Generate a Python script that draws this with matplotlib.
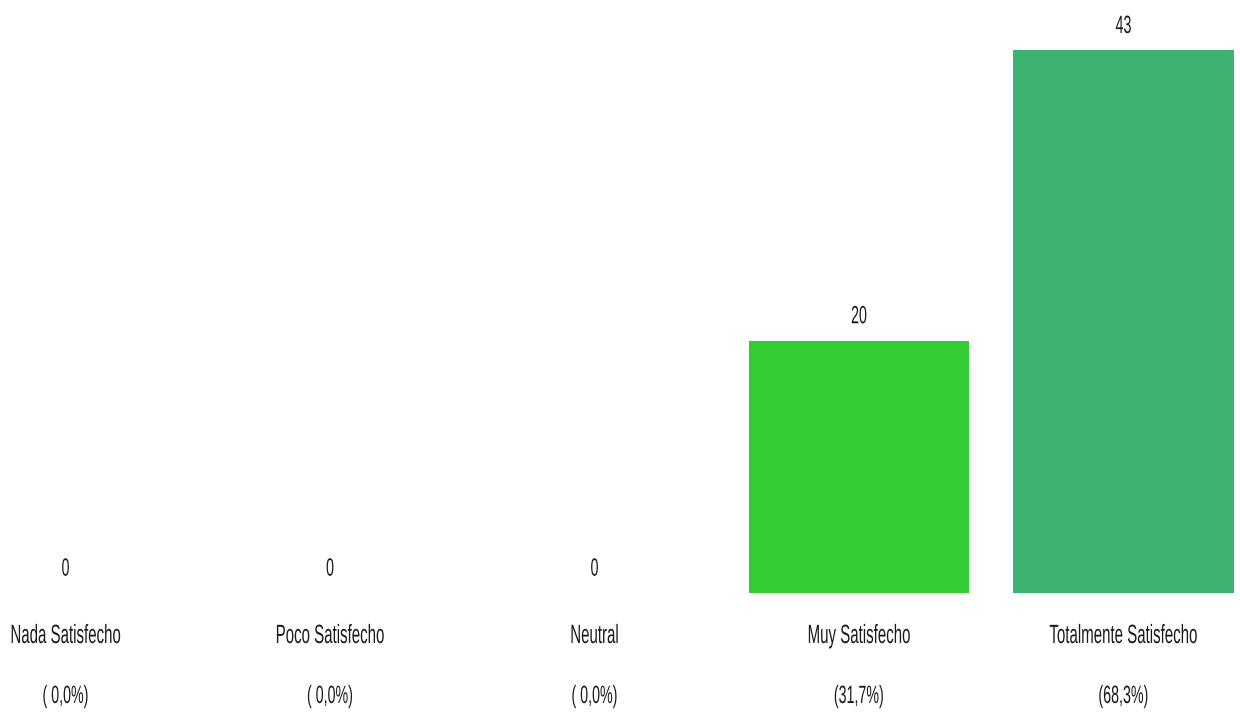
import matplotlib
matplotlib.use("Agg")
import matplotlib.pyplot as plt
import matplotlib.transforms as mtransforms
from matplotlib.patheffects import AbstractPathEffect

# Chart data
categories = ["Nada Satisfecho", "Poco Satisfecho", "Neutral", "Muy Satisfecho", "Totalmente Satisfecho"]
counts = [0, 0, 0, 20, 43]
percent_labels = ["( 0,0%)", "( 0,0%)", "( 0,0%)", "(31,7%)", "(68,3%)"]
bar_colors = ["#33cc33", "#33cc33", "#33cc33", "#33cc33", "#3cb371"]

TEXT_COLOR = "#1a1a1a"
CONDENSE = 0.57  # width / height ratio of the narrow lettering


class Tall(AbstractPathEffect):
    """Stretch text glyphs vertically about their baseline (gives a condensed look)."""

    def __init__(self, sy):
        super().__init__()
        self.sy = sy

    def draw_path(self, renderer, gc, tpath, affine, rgbFace=None):
        pre = mtransforms.Affine2D().scale(1, self.sy)
        renderer.draw_path(gc, tpath, pre + affine, rgbFace)


plt.rcParams["font.family"] = ["Liberation Sans", "DejaVu Sans"]

fig = plt.figure(figsize=(12.4, 7.16), dpi=100)
ax = fig.add_axes([0, 0, 1, 1])

x = list(range(len(categories)))
ax.bar(x, counts, width=0.832, color=bar_colors, edgecolor="none")

ax.set_xlim(-0.2476, 4.4405)
ax.set_ylim(-9.746, 46.99)
ax.axis("off")

tall = [Tall(1 / CONDENSE)]
label_size = 19 * CONDENSE
small_size = 18 * CONDENSE

# value labels above bars
for xi, v in zip(x, counts):
    ax.annotate(str(v), (xi, v), xytext=(0, 12.5), textcoords="offset points",
                ha="center", va="baseline", fontsize=small_size, color=TEXT_COLOR,
                path_effects=tall)

# category and percentage labels below
trans = mtransforms.blended_transform_factory(ax.transData, ax.transAxes)
for xi, cat, pct in zip(x, categories, percent_labels):
    ax.text(xi, 73 / 716, cat, transform=trans, ha="center", va="baseline",
            fontsize=label_size, color=TEXT_COLOR, path_effects=tall)
    ax.text(xi, 13 / 716, pct, transform=trans, ha="center", va="baseline",
            fontsize=small_size, color=TEXT_COLOR, path_effects=tall)

fig.savefig("out.png", dpi=100, facecolor="white")
